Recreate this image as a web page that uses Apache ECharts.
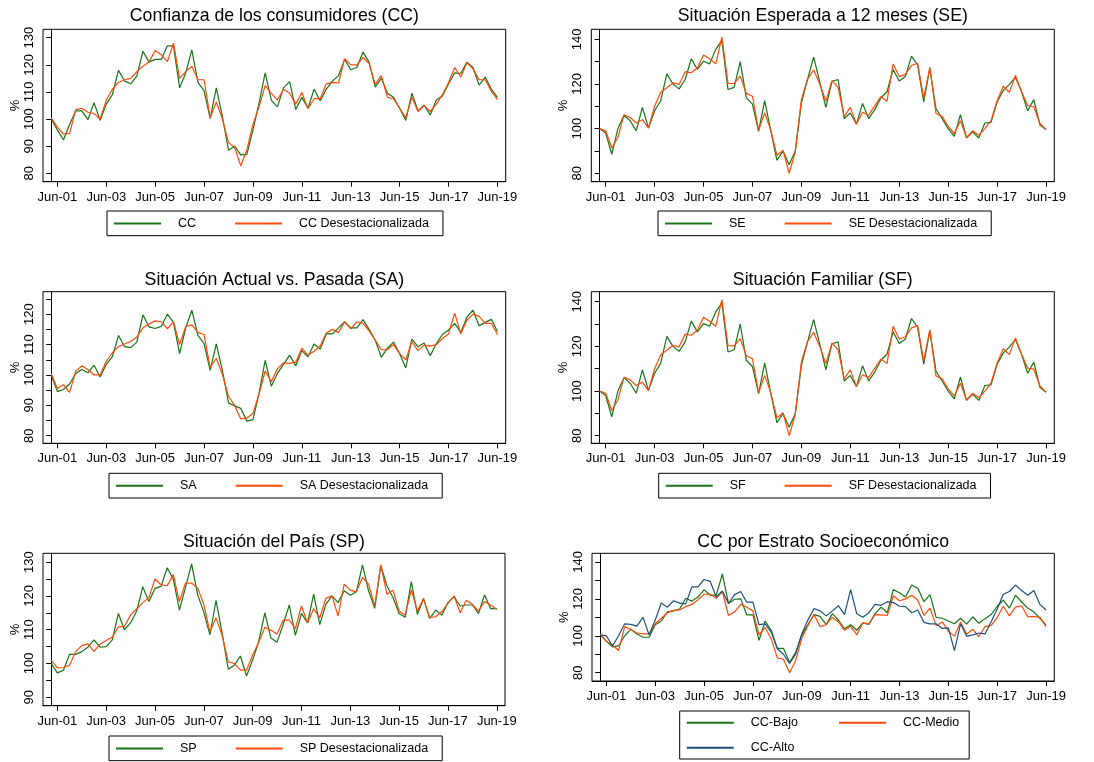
<!DOCTYPE html>
<html>
<head>
<meta charset="utf-8">
<script src="https://cdn.jsdelivr.net/npm/echarts@6/dist/echarts.min.js"></script>
<style>
  html, body { margin: 0; padding: 0; background: #fff; }
  #chart { width: 1094px; height: 762px; }
</style>
</head>
<body>
<div id="chart"></div>
<script>
// trimestres Mar-01 .. Jun-19
const months = ["Mar", "Jun", "Sep", "Dec"];
const quarters = [];
for (let y = 1; y <= 19; y++) {
  for (const m of months) {
    if (y === 19 && (m === "Sep" || m === "Dec")) continue;
    quarters.push(m + "-" + String(y).padStart(2, "0"));
  }
}
const tickLabels = ["Jun-01", "Jun-03", "Jun-05", "Jun-07", "Jun-09",
  "Jun-11", "Jun-13", "Jun-15", "Jun-17", "Jun-19"];

const cc = [
  100, 96, 92.3, 98, 103, 103, 99.8, 106, 99.5, 105.5,
  109, 118, 114, 113, 115.8, 125, 121, 122, 122, 127,
  127, 111.5, 117, 125.5, 113.5, 110.5, 100.2, 111.5, 101, 88.5,
  90, 86.8, 87, 96, 106, 117, 107, 104.5, 111.5, 113.8,
  103.5, 108, 104, 111, 106.8, 111, 114, 116, 122, 118.2,
  119, 124.7, 121, 111.8, 115, 109.5, 108, 104, 99.5, 109.5,
  103, 105.2, 101.5, 107, 108.5, 113, 117, 116.8, 121, 119,
  112.5, 115.5, 111, 108];
const ccDes = [
  100.5, 97, 94.5, 94.7, 103.5, 104, 102.5, 102, 100, 107,
  111, 113.5, 114.5, 115, 117.5, 119.5, 121, 125.3, 123.7, 121.2,
  128, 115, 117.5, 119.5, 114.5, 114.5, 100.5, 106.3, 100, 91.3,
  89.5, 82.8, 88.5, 98, 104.5, 112.3, 109.5, 107, 111, 109.5,
  105.5, 109.8, 103.8, 107.5, 107.5, 113, 113.5, 113.3, 122.3, 120,
  120, 122.7, 120.5, 112.8, 116, 108, 107.5, 104, 100.5, 108,
  102.8, 105, 102.8, 105.5, 109, 113.5, 119, 115.5, 120.8, 118.5,
  114.5, 114.5, 110.3, 107.2];

const se = [
  100, 98, 88.5, 100, 106, 103.5, 99, 109.5, 100.3, 108,
  112.5, 124.5, 120, 117.8, 122, 131.3, 126.5, 130.2, 129, 135.5,
  139.5, 117.5, 118.5, 130, 113.8, 111, 98.8, 112.5, 99, 85.8,
  90, 83.8, 90, 111.5, 122, 132, 121, 109.5, 121.2, 122,
  104.5, 107, 102, 111.3, 104.5, 108.5, 113.8, 116.5, 126.5, 121.3,
  123.3, 132.5, 128.5, 112, 127, 109, 104.5, 100, 96.5, 106.3,
  95.8, 98.5, 95.8, 102.5, 102.8, 112, 117, 119.8, 123, 116.5,
  108, 113, 101.7, 99.5];
const seDes = [
  100, 99, 91.3, 96, 106.2, 105, 102.5, 104, 100.2, 110,
  116.3, 118.3, 120.5, 119.8, 125.5, 125, 127.3, 133, 131.3, 129,
  141, 120.3, 120.2, 123.5, 115.8, 114.5, 99.3, 107, 99.2, 88,
  90.3, 80, 89.5, 113, 122.2, 126.3, 120, 112.3, 121.5, 118.5,
  105.5, 109.5, 102, 107.3, 106, 110.3, 114.3, 112.3, 129, 123.3,
  124.3, 128.3, 129.3, 113.5, 127.5, 106.8, 105.5, 101, 97.8, 103.5,
  96, 99, 97, 100, 103.5, 112.5, 119, 116.3, 123.8, 116.5,
  110.3, 109.8, 102.3, 99.5];

const sa = [
  100, 94.5, 95.2, 97, 100.5, 101.8, 100.7, 103.2, 99.3, 103.5,
  106, 113, 109.3, 109, 110.8, 119.8, 115.8, 115.3, 116, 120,
  117.3, 107, 115.5, 121.3, 113, 110.3, 101.5, 110.2, 101.5, 90.8,
  89.8, 89, 84.8, 85.3, 94, 104.8, 96.3, 100.5, 103.5, 106.5,
  103, 108, 106, 110.2, 108.5, 113.5, 113.5, 115.5, 117.5, 115.5,
  115.5, 118.2, 115, 111.5, 105.8, 108.8, 110.8, 107, 102.3, 111.8,
  109.3, 110.5, 106.3, 110.3, 113.3, 114.8, 117, 114, 119, 121.3,
  116.2, 117.3, 118.3, 114.3];
const saDes = [
  100.5, 95.5, 96.8, 94.3, 101.2, 103, 101.8, 100, 100, 104.5,
  107.3, 109.3, 110.2, 111, 112.5, 115.5, 116.8, 117.8, 117.5, 115.2,
  117.5, 110, 116, 116.5, 114, 113.3, 102.5, 105.5, 100.2, 93,
  90, 85.5, 85.8, 87.3, 93.8, 101.3, 97.8, 102, 104, 103.8,
  104.2, 108.8, 106.5, 107.8, 109.5, 113.8, 115, 114, 117.5, 115.2,
  117.5, 117, 114.5, 111.5, 108.3, 108.3, 110, 107, 105, 111,
  108, 109.8, 109.5, 110, 112, 113.5, 120.3, 113.5, 118, 120,
  119.3, 117, 117, 113.3];

const sf = [
  100, 98, 88.5, 100, 106, 103.5, 99, 109.5, 100.3, 108,
  112.5, 124.5, 120, 117.8, 122, 131.3, 126.5, 130.2, 129, 135.5,
  139.5, 117.5, 118.5, 130, 113.8, 111, 98.8, 112.5, 99, 85.8,
  90, 83.8, 90, 111.5, 122, 132, 121, 109.5, 121.2, 122,
  104.5, 107, 102, 111.3, 104.5, 108.5, 113.8, 116.5, 126.5, 121.3,
  123.3, 132.5, 128.5, 112, 127, 109, 104.5, 100, 96.5, 106.3,
  95.8, 98.5, 95.8, 102.5, 102.8, 112, 117, 119.8, 123, 116.5,
  108, 113, 101.7, 99.5];
const sfDes = [
  100, 99, 91.3, 96, 106.2, 105, 102.5, 104, 100.2, 110,
  116.3, 118.3, 120.5, 119.8, 125.5, 125, 127.3, 133, 131.3, 129,
  141, 120.3, 120.2, 123.5, 115.8, 114.5, 99.3, 107, 99.2, 88,
  90.3, 80, 89.5, 113, 122.2, 126.3, 120, 112.3, 121.5, 118.5,
  105.5, 109.5, 102, 107.3, 106, 110.3, 114.3, 112.3, 129, 123.3,
  124.3, 128.3, 129.3, 113.5, 127.5, 106.8, 105.5, 101, 97.8, 103.5,
  96, 99, 97, 100, 103.5, 112.5, 119, 116.3, 123.8, 116.5,
  110.3, 109.8, 102.3, 99.5];

const sp = [
  100, 97.2, 98, 102.7, 102.7, 103.5, 104.8, 107, 104.8, 105,
  107, 114.8, 110, 112, 115.5, 122.7, 118.3, 122.2, 122.8, 128.3,
  125, 115.8, 122.5, 129.5, 120.3, 115.2, 108.5, 118.7, 109, 98.3,
  99.5, 102.2, 96.3, 101, 106.5, 115, 107.5, 106.3, 111.5, 117.3,
  108.3, 114.8, 112, 120.5, 111.5, 117.5, 120, 118, 121.5, 120.2,
  121.2, 129.2, 121.5, 116.3, 129, 123, 119.5, 114.8, 113.7, 124.2,
  114.5, 119.2, 113.3, 115.8, 114.3, 118, 119.8, 117, 117.3, 117.3,
  114.8, 120.3, 116.2, 116.2];
const spDes = [
  101, 98.7, 98.8, 99.5, 103.5, 105.3, 105.8, 103.6, 105.7, 106.8,
  107.8, 110.8, 111, 114.3, 116.2, 118, 119.5, 125, 123.3, 123,
  126.3, 118.3, 123.8, 123.8, 122.3, 117.5, 109.3, 113.5, 108.3, 100.5,
  100, 98, 98, 102.5, 106.3, 110.7, 109.8, 108.7, 112.8, 112.8,
  110.3, 117, 112, 116.2, 113.5, 119.3, 120, 114, 123.5, 121.7,
  121.2, 125.5, 123.5, 117, 129.2, 120.5, 121.7, 115.5, 114.3, 121.8,
  115.5, 119.2, 113.7, 113.8, 115.3, 117.8, 120, 115, 118.7, 117.5,
  115.5, 118.3, 117.3, 116];

const ccBajo = [
  100.5, 97, 94, 94.5, 100, 103.5, 101, 99.2, 99.2, 106,
  108, 113, 113.5, 114.5, 120.3, 118.8, 121, 125, 122, 122,
  133.5, 117.5, 119.8, 120, 111.3, 111.3, 97.5, 108, 103, 93.2,
  93.2, 85.5, 91, 100.5, 106, 111.5, 110.5, 106, 112, 108.5,
  103.8, 106, 103, 107, 106.2, 112, 115.5, 112.5, 125, 123.3,
  121, 127.5, 125.8, 118.5, 122.3, 110, 109.5, 108, 106.5, 109.5,
  106.3, 110.3, 106.8, 109.3, 111.5, 116, 119.3, 115, 122, 118.3,
  115, 113, 109.5, 105.8];
const ccMedio = [
  101, 97, 95, 92, 105, 103.5, 101.5, 101, 101, 106.5,
  109.5, 112.5, 113.8, 114, 115.8, 117, 119.5, 122.5, 122.5, 120.3,
  124, 111, 113, 117, 115.5, 113.5, 100.5, 104.5, 98.3, 88,
  87.3, 80, 86.5, 98.5, 105.5, 111.5, 105, 106, 110, 107.5,
  103, 105.2, 100.5, 107, 106.5, 111.5, 111.3, 111, 121.7, 119,
  120, 122, 119.3, 111, 115, 105.5, 107.5, 102.5, 99.8, 107.5,
  100.8, 103.5, 99.5, 105, 105.5, 110, 116, 110.8, 115.5, 116.3,
  110.3, 110.5, 110, 105];
const ccAlto = [
  100.5, 100, 94.5, 100, 106.5, 106.2, 105.2, 110, 100.5, 108.5,
  117.8, 115.5, 119, 117.7, 117.3, 126.5, 126.5, 130.5, 129.5, 121,
  124.3, 117.5, 122.3, 124, 118.2, 118.2, 106, 106.5, 102, 93,
  90, 85, 90, 101, 108.5, 114.8, 113.5, 110.8, 113.5, 116.3,
  111.5, 125, 112, 110, 112.5, 117, 116.5, 118.5, 118, 116,
  115.8, 112.5, 114, 107.3, 106.5, 106.5, 104, 104.3, 92, 106.5,
  99.7, 100.5, 101.5, 101, 107.5, 114.5, 122.5, 124, 127.5, 124.5,
  122, 124.5, 117, 114];

const GREEN = "#177417";
const ORANGE = "#ff4a0a";
const BLUE = "#1d4f7c";
const FONT = "'Liberation Sans', Arial, sans-serif";

function range(a, b, step) {
  let out = [];
  for (let v = a; v <= b + 1e-9; v += step) out.push(v);
  return out;
}

const panels = [
  {
    title: "Confianza de los consumidores (CC)", titleTop: 7.5,
    grid: { left: 43, top: 29.3, width: 462.7, height: 152.4 },
    yMin: 76.9, yMax: 133.1, yTicks: range(80, 130, 10), yLabels: range(80, 130, 10),
    legend: { left: 107, top: 211 },
    series: [["CC", cc, GREEN], ["CC Desestacionalizada", ccDes, ORANGE]],
  },
  {
    title: "Situación Esperada a 12 meses (SE)", titleTop: 7.5,
    grid: { left: 591.3, top: 29.3, width: 463, height: 152.4 },
    yMin: 76.2, yMax: 144.5, yTicks: range(80, 140, 10), yLabels: range(80, 140, 20),
    legend: { left: 658, top: 211 },
    series: [["SE", se, GREEN], ["SE Desestacionalizada", seDes, ORANGE]],
  },
  {
    title: "Situación Actual vs. Pasada (SA)", titleTop: 271.5,
    grid: { left: 43, top: 291.7, width: 462.7, height: 151.6 },
    yMin: 77.5, yMax: 127.4, yTicks: range(80, 125, 5), yLabels: range(80, 120, 10),
    legend: { left: 109, top: 473.3 },
    series: [["SA", sa, GREEN], ["SA Desestacionalizada", saDes, ORANGE]],
  },
  {
    title: "Situación Familiar (SF)", titleTop: 271.5,
    grid: { left: 591.3, top: 291.7, width: 463, height: 151.6 },
    yMin: 76.6, yMax: 144.5, yTicks: range(80, 140, 10), yLabels: range(80, 140, 20),
    legend: { left: 658.7, top: 473.3 },
    series: [["SF", sf, GREEN], ["SF Desestacionalizada", sfDes, ORANGE]],
  },
  {
    title: "Situación del País (SP)", titleTop: 533,
    grid: { left: 43, top: 553.3, width: 462, height: 152.4 },
    yMin: 87.5, yMax: 132.6, yTicks: range(90, 130, 5), yLabels: range(90, 130, 10),
    legend: { left: 109, top: 736 },
    series: [["SP", sp, GREEN], ["SP Desestacionalizada", spDes, ORANGE]],
  },
  {
    title: "CC por Estrato Socioeconómico", titleTop: 533,
    grid: { left: 592, top: 553.3, width: 462.3, height: 127.7 },
    yMin: 75.5, yMax: 144.7, yTicks: range(80, 140, 10), yLabels: range(80, 140, 20),
    legend: { left: 679.7, top: 711 },
    series: [["CC-Bajo", ccBajo, GREEN], ["CC-Medio", ccMedio, ORANGE], ["CC-Alto", ccAlto, BLUE]],
  },
];

const xTicks = tickLabels.map((l) => quarters.indexOf(l));

let titles = [], grids = [], xAxes = [], yAxes = [], legends = [], series = [];

panels.forEach((p, k) => {
  titles.push({
    text: p.title,
    left: p.grid.left + p.grid.width / 2,
    top: p.titleTop,
    textAlign: "center",
    padding: 0,
    textStyle: { fontSize: 17.7, fontWeight: "normal", color: "#000", fontFamily: FONT },
  });
  grids.push(Object.assign({
    show: true, borderColor: "#000", borderWidth: 1,
    containLabel: false, outerBoundsMode: "none",
  }, p.grid));
  xAxes.push({
    type: "value", gridIndex: k, min: -1.35, max: quarters.length - 1 + 1.35,
    axisLine: { show: true, onZero: false, lineStyle: { color: "#000", width: 1 } },
    axisTick: { show: true, customValues: xTicks, length: 5, lineStyle: { color: "#000" } },
    axisLabel: {
      customValues: xTicks, margin: 9, color: "#000", fontSize: 13, fontFamily: FONT,
      formatter: (v) => quarters[Math.round(v)],
    },
    splitLine: { show: false },
  });
  yAxes.push({
    type: "value", gridIndex: k, min: p.yMin, max: p.yMax,
    name: "%", nameLocation: "middle", nameGap: 21, nameRotate: 90,
    nameTextStyle: { fontSize: 13, color: "#000", fontFamily: FONT },
    axisLine: { show: true, lineStyle: { color: "#000", width: 1 } },
    axisTick: { show: true, customValues: p.yTicks, length: 5, lineStyle: { color: "#000" } },
    axisLabel: {
      customValues: p.yLabels, rotate: 90, margin: 7, color: "#000",
      fontSize: 13, fontFamily: FONT,
    },
    splitLine: { show: false },
  });

  const legendBase = {
    orient: "horizontal", itemWidth: 47, itemHeight: 14, itemGap: 38,
    itemStyle: { opacity: 0 },
    textStyle: { fontSize: 12.5, color: "#000", fontFamily: FONT, padding: [0, 0, 0, 12] },
    selectedMode: false,
  };
  if (p.series.length === 2) {
    legends.push(Object.assign({}, legendBase, {
      data: p.series.map((s) => s[0]),
      left: p.legend.left, top: p.legend.top,
      padding: [6, 14, 5.7, 6], borderColor: "#000", borderWidth: 1,
    }));
  } else {
    // tres entradas: dos en la primera fila, una en la segunda
    legends.push(Object.assign({}, legendBase, {
      data: [p.series[0][0], p.series[1][0]],
      left: p.legend.left, top: p.legend.top, itemGap: 40,
      padding: [5.3, 10, 29.7, 6], borderColor: "#000", borderWidth: 1,
    }));
    legends.push(Object.assign({}, legendBase, {
      data: [p.series[2][0]],
      left: p.legend.left + 6, top: p.legend.top + 30.3, padding: 0,
    }));
  }

  p.series.forEach(([name, values, color]) => {
    series.push({
      name: name, type: "line", xAxisIndex: k, yAxisIndex: k,
      data: values.map((v, i) => [i, v]),
      symbol: "none", showSymbol: false,
      lineStyle: { color: color, width: 1.2 },
      itemStyle: { color: color },
      animation: false,
    });
  });
});

const myChart = echarts.init(document.getElementById("chart"), null, { renderer: "canvas" });
myChart.setOption({
  backgroundColor: "#fff",
  animation: false,
  textStyle: { fontFamily: FONT },
  title: titles,
  grid: grids,
  xAxis: xAxes,
  yAxis: yAxes,
  legend: legends,
  tooltip: { show: false },
  series: series,
});
</script>
</body>
</html>
